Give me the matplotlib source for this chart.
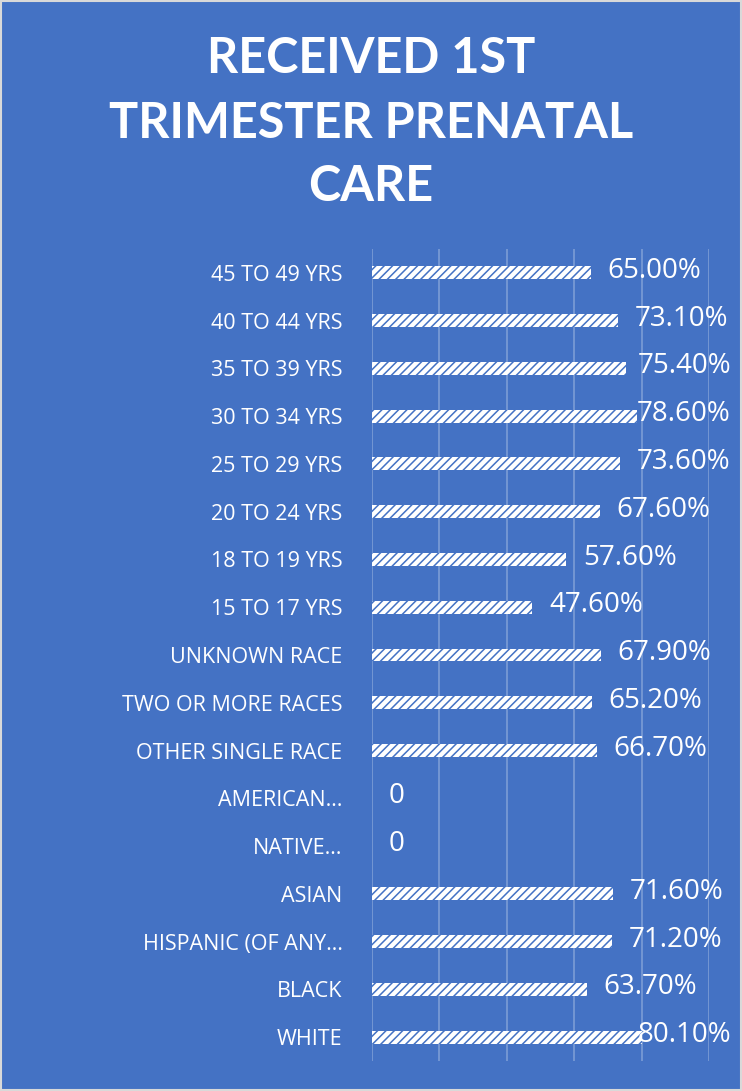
import matplotlib
matplotlib.use("Agg")
import matplotlib.pyplot as plt

# data, bottom to top as drawn
categories = [
    "WHITE", "BLACK", "HISPANIC (OF ANY…", "ASIAN", "NATIVE…", "AMERICAN…",
    "OTHER SINGLE RACE", "TWO OR MORE RACES", "UNKNOWN RACE",
    "15 TO 17 YRS", "18 TO 19 YRS", "20 TO 24 YRS", "25 TO 29 YRS",
    "30 TO 34 YRS", "35 TO 39 YRS", "40 TO 44 YRS", "45 TO 49 YRS",
]
values = [0.801, 0.637, 0.712, 0.716, 0.0, 0.0, 0.667, 0.652, 0.679,
          0.476, 0.576, 0.676, 0.736, 0.786, 0.754, 0.731, 0.650]
xticks = [0, 0.2, 0.4, 0.6, 0.8, 1.0]

bg = "#4472C4"
plt.rcParams["hatch.linewidth"] = 1.1
plt.rcParams["font.family"] = ["Open Sans", "DejaVu Sans"]

fig = plt.figure(figsize=(7.42, 10.91), dpi=100, facecolor=bg)
ax = fig.add_axes([0.501, 0.0275, 0.4545, 0.7443])
ax.set_facecolor(bg)

y = list(range(len(categories)))
ax.barh(y, values, height=0.27, color="white", edgecolor=bg,
        linewidth=0, hatch="////")

ax.set_xlim(0, 1.0)
ax.set_ylim(-0.5, len(categories) - 0.5)

# value labels: outside the bar end, pulled back if they would run off the right
renderer = fig.canvas.get_renderer()
right_px = 731
for yi, v in zip(y, values):
    txt = "0" if v == 0 else f"{v * 100:.2f}%"
    t = ax.text(v + 0.05, yi + 0.04, txt, color="white", fontsize=20,
                va="center", ha="left")
    bb = t.get_window_extent(renderer)
    if bb.x1 > right_px:
        x_data = ax.transData.inverted().transform((right_px, 0))[0]
        t.set_x(x_data)
        t.set_ha("right")

ax.set_xticks(xticks)
ax.set_xticklabels([])
ax.set_yticks(y)
ax.set_yticklabels(categories, color="white", fontsize=15.5)
ax.tick_params(axis="y", length=0, pad=21)
ax.tick_params(axis="x", length=0)
ax.grid(axis="x", color="white", alpha=0.3, linewidth=1.2)
ax.set_axisbelow(True)
for s in ax.spines.values():
    s.set_visible(False)

title_font = dict(color="white", fontsize=35, fontweight="bold",
                  family=["Lato", "DejaVu Sans"], ha="center", va="center")
fig.text(0.5, 0.946, "RECEIVED 1ST", **title_font)
fig.text(0.5, 0.887, "TRIMESTER PRENATAL", **title_font)
fig.text(0.5, 0.829, "CARE", **title_font)

# thin light frame round the picture
fig.add_artist(plt.Rectangle((0.001, 0.001), 0.998, 0.998,
                             transform=fig.transFigure, fill=False,
                             edgecolor="#D9D9D9", linewidth=1.5))

fig.savefig("out.png", dpi=100, facecolor=bg)
